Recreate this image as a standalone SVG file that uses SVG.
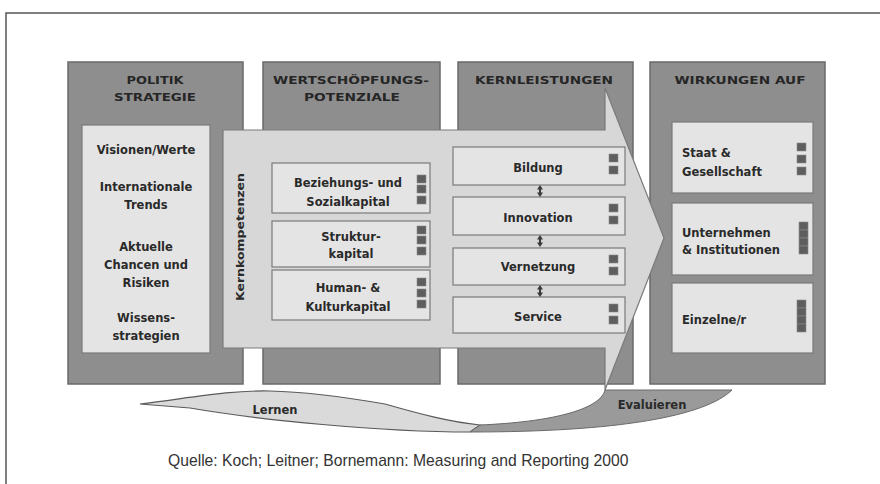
<svg xmlns="http://www.w3.org/2000/svg" width="880" height="484" viewBox="0 0 880 484">
<style>
.col{fill:#8e8e8e;stroke:#6a6a6a;stroke-width:1.5}
.box{fill:#e4e4e4;stroke:#7a7a7a;stroke-width:1.2}
.hd{font-family:"DejaVu Sans","Liberation Sans",Arial,sans-serif;font-weight:bold;font-size:11px;fill:#262626;text-anchor:middle}
.t{font-family:"DejaVu Sans","Liberation Sans",Arial,sans-serif;font-weight:bold;font-size:11.5px;fill:#2a2a2a;text-anchor:middle}
.tl{font-family:"DejaVu Sans","Liberation Sans",Arial,sans-serif;font-weight:bold;font-size:11.5px;fill:#2a2a2a}
.sq{fill:#5e5e5e;stroke:#8a8a8a;stroke-width:0.6}
.cap{font-family:"Liberation Sans",Arial,sans-serif;font-size:15.7px;fill:#333}
</style>
<defs>
<rect id="s" class="sq" width="9" height="8"/>
<path id="dbl" d="M0,-6 L3,-1.5 L1,-1.5 L1,1.5 L3,1.5 L0,6 L-3,1.5 L-1,1.5 L-1,-1.5 L-3,-1.5 Z" fill="#3a3a3a"/>
</defs>
<rect x="0" y="0" width="880" height="484" fill="#ffffff"/>
<rect x="6" y="13" width="900" height="500" fill="#ffffff" stroke="#555" stroke-width="1.5"/>

<g id="col-politik">
<rect class="col" x="68" y="62" width="175" height="322"/>
<text class="hd" x="155" y="84" textLength="57" lengthAdjust="spacingAndGlyphs">POLITIK</text>
<text class="hd" x="155" y="101" textLength="82" lengthAdjust="spacingAndGlyphs">STRATEGIE</text>
</g>
<g id="col-wert">
<rect class="col" x="263" y="62" width="177" height="322"/>
<text class="hd" x="351" y="84" textLength="156" lengthAdjust="spacingAndGlyphs">WERTSCHÖPFUNGS-</text>
<text class="hd" x="352" y="101" textLength="96" lengthAdjust="spacingAndGlyphs">POTENZIALE</text>
</g>
<g id="col-kern">
<rect class="col" x="458" y="62" width="175" height="322"/>
<text class="hd" x="544" y="84" textLength="138" lengthAdjust="spacingAndGlyphs">KERNLEISTUNGEN</text>
</g>
<g id="col-wirk">
<rect class="col" x="650" y="62" width="175" height="322"/>
<text class="hd" x="740" y="84" textLength="131" lengthAdjust="spacingAndGlyphs">WIRKUNGEN AUF</text>
</g>

<g id="politik-box">
<rect class="box" x="82" y="125" width="128" height="228"/>
<text class="t" x="146" y="154">Visionen/Werte</text>
<text class="t" x="146" y="191">Internationale</text>
<text class="t" x="146" y="209">Trends</text>
<text class="t" x="146" y="251">Aktuelle</text>
<text class="t" x="146" y="269">Chancen und</text>
<text class="t" x="146" y="287">Risiken</text>
<text class="t" x="146" y="322">Wissens-</text>
<text class="t" x="146" y="340">strategien</text>
</g>

<g id="main-arrow">
<path d="M223,130 L605,130 L605,88 L664,238 L605,390 L605,348 L223,348 Z" fill="#d7d7d7" stroke="#7a7a7a" stroke-width="1.2"/>
<text class="t" transform="translate(244,237) rotate(-90)" style="font-size:10.5px" textLength="128" lengthAdjust="spacingAndGlyphs">Kernkompetenzen</text>
</g>

<g id="beziehung">
<rect class="box" x="272" y="163" width="158" height="50"/>
<text class="t" x="348" y="187">Beziehungs- und</text>
<text class="t" x="348" y="206">Sozialkapital</text>
<use href="#s" x="417" y="175"/><use href="#s" x="417" y="185"/><use href="#s" x="417" y="196"/>
</g>
<g id="struktur">
<rect class="box" x="272" y="221" width="158" height="46"/>
<text class="t" x="351" y="241">Struktur-</text>
<text class="t" x="351" y="258">kapital</text>
<use href="#s" x="417" y="226"/><use href="#s" x="417" y="236"/><use href="#s" x="417" y="247"/>
</g>
<g id="human">
<rect class="box" x="272" y="270" width="158" height="50"/>
<text class="t" x="348" y="292">Human- &amp;</text>
<text class="t" x="348" y="311">Kulturkapital</text>
<use href="#s" x="417" y="278"/><use href="#s" x="417" y="289"/><use href="#s" x="417" y="300"/>
</g>

<g id="bildung">
<rect class="box" x="453" y="147" width="172" height="38"/>
<text class="t" x="538" y="172">Bildung</text>
<use href="#s" x="609" y="154"/><use href="#s" x="609" y="166"/>
</g>
<g id="innovation">
<rect class="box" x="453" y="197" width="172" height="38"/>
<text class="t" x="538" y="222">Innovation</text>
<use href="#s" x="609" y="204"/><use href="#s" x="609" y="216"/>
</g>
<g id="vernetzung">
<rect class="box" x="453" y="248" width="172" height="37"/>
<text class="t" x="538" y="271">Vernetzung</text>
<use href="#s" x="609" y="255"/><use href="#s" x="609" y="267"/>
</g>
<g id="service">
<rect class="box" x="453" y="297" width="172" height="36"/>
<text class="t" x="538" y="321">Service</text>
<use href="#s" x="609" y="304"/><use href="#s" x="609" y="316"/>
</g>

<g id="staat">
<rect class="box" x="672" y="122" width="141" height="71"/>
<text class="tl" x="682" y="157">Staat &amp;</text>
<text class="tl" x="682" y="176">Gesellschaft</text>
<use href="#s" x="797" y="143"/><use href="#s" x="797" y="155"/><use href="#s" x="797" y="167"/>
</g>
<g id="unternehmen">
<rect class="box" x="672" y="203" width="141" height="72"/>
<text class="tl" x="682" y="237">Unternehmen</text>
<text class="tl" x="682" y="254">&amp; Institutionen</text>
<use href="#s" x="799" y="222"/><use href="#s" x="799" y="230"/><use href="#s" x="799" y="238"/><use href="#s" x="799" y="246"/>
</g>
<g id="einzelne">
<rect class="box" x="672" y="283" width="141" height="70"/>
<text class="tl" x="682" y="324">Einzelne/r</text>
<use href="#s" x="797" y="300"/><use href="#s" x="797" y="308"/><use href="#s" x="797" y="316"/><use href="#s" x="797" y="324"/>
</g>

<g id="connectors">
<use href="#dbl" x="540" y="191"/>
<use href="#dbl" x="540" y="241"/>
<use href="#dbl" x="540" y="291"/>
<path id="lernen" d="M140,404 C190,398 230,390 270,391 C310,392 350,398 385,404 C420,414 450,422 480,425 L470,432 C380,432 260,420 190,408 Z" fill="#dadada" stroke="#5a5a5a" stroke-width="1.2"/>
<path id="evaluieren" d="M605,390 L732,390 C705,416 620,432 470,432 L480,425 C550,422 600,410 605,390 Z" fill="#9a9a9a" stroke="#6a6a6a" stroke-width="1"/>
<text class="t" x="275" y="414">Lernen</text>
<text class="t" x="652" y="409">Evaluieren</text>
</g>

<text class="cap" x="168" y="466">Quelle: Koch; Leitner; Bornemann: Measuring and Reporting 2000</text>
</svg>
